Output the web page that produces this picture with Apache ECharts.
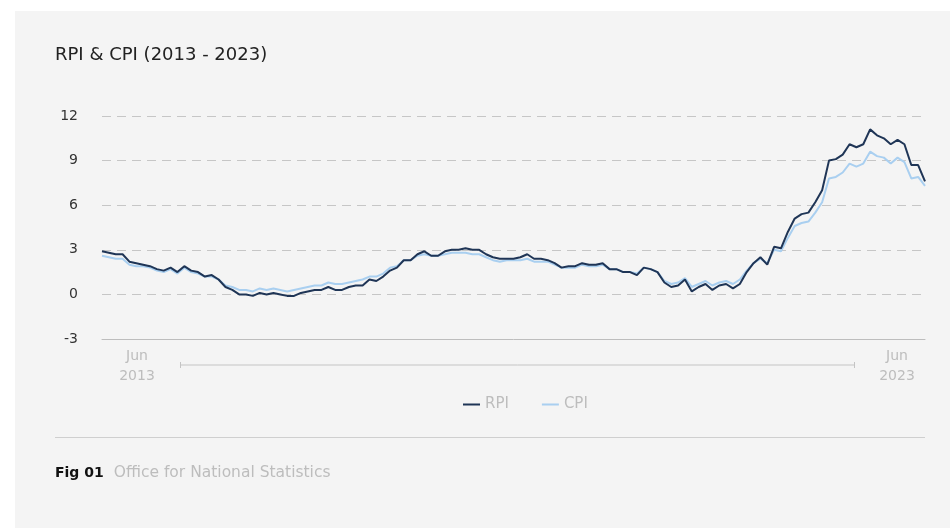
<!DOCTYPE html>
<html>
<head>
<meta charset="utf-8">
<title>RPI & CPI (2013 - 2023)</title>
<script src="https://cdn.jsdelivr.net/npm/echarts@6/dist/echarts.min.js"></script>
<style>
  html, body { margin: 0; padding: 0; background: #ffffff; }
  #panel { position: absolute; left: 15px; top: 11px; width: 935px; height: 517px; background: #f4f4f4; }
  #chart { position: absolute; left: 0; top: 0; width: 950px; height: 528px; }
</style>
</head>
<body>
<div id="panel"></div>
<div id="chart"></div>
<script>
// Monthly annual inflation rates, Jun 2013 to Jun 2023 (%)
const months = [];
const monthNames = ['Jan','Feb','Mar','Apr','May','Jun','Jul','Aug','Sep','Oct','Nov','Dec'];
for (let y = 2013, m = 5; y < 2023 || (y === 2023 && m <= 5); m++) {
  if (m > 11) { m = 0; y++; }
  if (y === 2023 && m > 5) break;
  months.push(monthNames[m] + ' ' + y);
}

const rpi = [
  2.9, 2.8, 2.7, 2.7, 2.2, 2.1, 2.0,
  1.9, 1.7, 1.6, 1.8, 1.5, 1.9, 1.6, 1.5, 1.2, 1.3, 1.0, 0.5,
  0.3, 0.0, 0.0, -0.1, 0.1, 0.0, 0.1, 0.0, -0.1, -0.1, 0.1, 0.2,
  0.3, 0.3, 0.5, 0.3, 0.3, 0.5, 0.6, 0.6, 1.0, 0.9, 1.2, 1.6,
  1.8, 2.3, 2.3, 2.7, 2.9, 2.6, 2.6, 2.9, 3.0, 3.0, 3.1, 3.0,
  3.0, 2.7, 2.5, 2.4, 2.4, 2.4, 2.5, 2.7, 2.4, 2.4, 2.3, 2.1,
  1.8, 1.9, 1.9, 2.1, 2.0, 2.0, 2.1, 1.7, 1.7, 1.5, 1.5, 1.3,
  1.8, 1.7, 1.5, 0.8, 0.5, 0.6, 1.0, 0.2, 0.5, 0.7, 0.3, 0.6,
  0.7, 0.4, 0.7, 1.5, 2.1, 2.5, 2.0, 3.2, 3.1, 4.2, 5.1, 5.4,
  5.5, 6.2, 7.0, 9.0, 9.1, 9.4, 10.1, 9.9, 10.1, 11.1, 10.7, 10.5,
  10.1, 10.4, 10.1, 8.7, 8.7, 7.6
];

const cpi = [
  2.6, 2.5, 2.4, 2.4, 2.0, 1.9, 1.9,
  1.8, 1.6, 1.5, 1.7, 1.4, 1.8, 1.5, 1.4, 1.2, 1.2, 1.0, 0.6,
  0.5, 0.3, 0.3, 0.2, 0.4, 0.3, 0.4, 0.3, 0.2, 0.3, 0.4, 0.5,
  0.6, 0.6, 0.8, 0.7, 0.7, 0.8, 0.9, 1.0, 1.2, 1.2, 1.4, 1.8,
  1.9, 2.3, 2.3, 2.6, 2.7, 2.6, 2.6, 2.7, 2.8, 2.8, 2.8, 2.7,
  2.7, 2.5, 2.3, 2.2, 2.3, 2.3, 2.3, 2.4, 2.2, 2.2, 2.2, 2.0,
  1.8, 1.8, 1.8, 2.0, 1.9, 1.9, 2.0, 1.7, 1.7, 1.5, 1.5, 1.4,
  1.8, 1.7, 1.5, 0.9, 0.7, 0.8, 1.1, 0.5, 0.7, 0.9, 0.6, 0.8,
  0.9, 0.7, 1.0, 1.6, 2.1, 2.4, 2.1, 3.0, 2.9, 3.8, 4.6, 4.8,
  4.9, 5.5, 6.2, 7.8, 7.9, 8.2, 8.8, 8.6, 8.8, 9.6, 9.3, 9.2,
  8.8, 9.2, 8.9, 7.8, 7.9, 7.3
];

// Axis labels shown at the two ends of the time axis
const startLabel = ['Jun', '2013'];
const endLabel = ['Jun', '2023'];
const yTicks = { min: -3, max: 12, interval: 3 };

const FONT = '"DejaVu Sans", "Noto Sans", sans-serif';
const GREY_TEXT = '#bdbdbd';

const chart = echarts.init(document.getElementById('chart'), null, { renderer: 'canvas' });

chart.setOption({
  backgroundColor: 'transparent',
  animation: false,
  textStyle: { fontFamily: FONT },
  title: {
    text: 'RPI & CPI (2013 - 2023)',
    left: 55,
    top: 46,
    padding: 0,
    textStyle: { fontFamily: FONT, fontSize: 18, fontWeight: 'normal', color: '#222222' }
  },
  legend: {
    data: ['RPI', 'CPI'],
    left: 463,
    top: 397,
    padding: 0,
    itemWidth: 17,
    itemHeight: 2,
    itemGap: 33,
    icon: 'rect',
    textStyle: { color: GREY_TEXT, fontSize: 15, fontFamily: FONT }
  },
  grid: { left: 102, right: 25, top: 116, bottom: 189, containLabel: false },
  xAxis: {
    type: 'category',
    data: months,
    boundaryGap: false,
    axisLine: { show: true, onZero: false, lineStyle: { color: '#bdbdbd', width: 1 } },
    axisTick: { show: false },
    splitLine: { show: false },
    axisLabel: {
      interval: (i) => i === 0 || i === months.length - 1,
      margin: 7,
      alignMinLabel: 'left',
      alignMaxLabel: 'right',
      formatter: (v, i) => {
        const parts = i === 0 ? startLabel : endLabel;
        const key = i === 0 ? 's' : 'e';
        return '{' + key + '|' + parts[0] + '}\n{' + key + '|' + parts[1] + '}';
      },
      rich: {
        s: { width: 44, align: 'center', color: GREY_TEXT, fontSize: 14, lineHeight: 20, fontFamily: FONT, padding: [0, 0, 0, 13] },
        e: { width: 44, align: 'center', color: GREY_TEXT, fontSize: 14, lineHeight: 20, fontFamily: FONT, padding: [0, 6, 0, 0] }
      }
    }
  },
  yAxis: {
    type: 'value',
    min: yTicks.min,
    max: yTicks.max,
    interval: yTicks.interval,
    axisLine: { show: false },
    axisTick: { show: false },
    axisLabel: { color: '#333333', fontSize: 14, margin: 24, fontFamily: FONT },
    splitLine: {
      show: true,
      // bottom boundary is drawn by the solid category axis line
      lineStyle: { color: ['transparent', '#c6c6c6', '#c6c6c6', '#c6c6c6', '#c6c6c6', '#c6c6c6'], width: 1, type: [9, 6] }
    }
  },
  series: [
    {
      name: 'RPI',
      type: 'line',
      data: rpi,
      showSymbol: false,
      z: 3,
      lineStyle: { color: '#1f3556', width: 2 },
      itemStyle: { color: '#1f3556' }
    },
    {
      name: 'CPI',
      type: 'line',
      data: cpi,
      showSymbol: false,
      z: 2,
      lineStyle: { color: '#a9cff0', width: 2 },
      itemStyle: { color: '#a9cff0' }
    }
  ],
  graphic: [
    // time-span bracket between the end labels
    { type: 'line', shape: { x1: 180, y1: 365, x2: 855, y2: 365 }, style: { stroke: '#c4c4c4', lineWidth: 1 } },
    { type: 'line', shape: { x1: 180.5, y1: 362, x2: 180.5, y2: 368 }, style: { stroke: '#c4c4c4', lineWidth: 1 } },
    { type: 'line', shape: { x1: 854.5, y1: 362, x2: 854.5, y2: 368 }, style: { stroke: '#c4c4c4', lineWidth: 1 } },
    // footer rule
    { type: 'line', shape: { x1: 55, y1: 437.5, x2: 925, y2: 437.5 }, style: { stroke: '#cfcfcf', lineWidth: 1 } },
    // source note
    {
      type: 'text', left: 55, top: 465,
      style: {
        text: '{b|Fig 01}{g|Office for National Statistics}',
        rich: {
          b: { fontFamily: FONT, fontSize: 14, fontWeight: 'bold', fill: '#111111', padding: [0, 10, 0, 0] },
          g: { fontFamily: FONT, fontSize: 15.5, fill: GREY_TEXT }
        }
      }
    }
  ]
});
</script>
</body>
</html>
